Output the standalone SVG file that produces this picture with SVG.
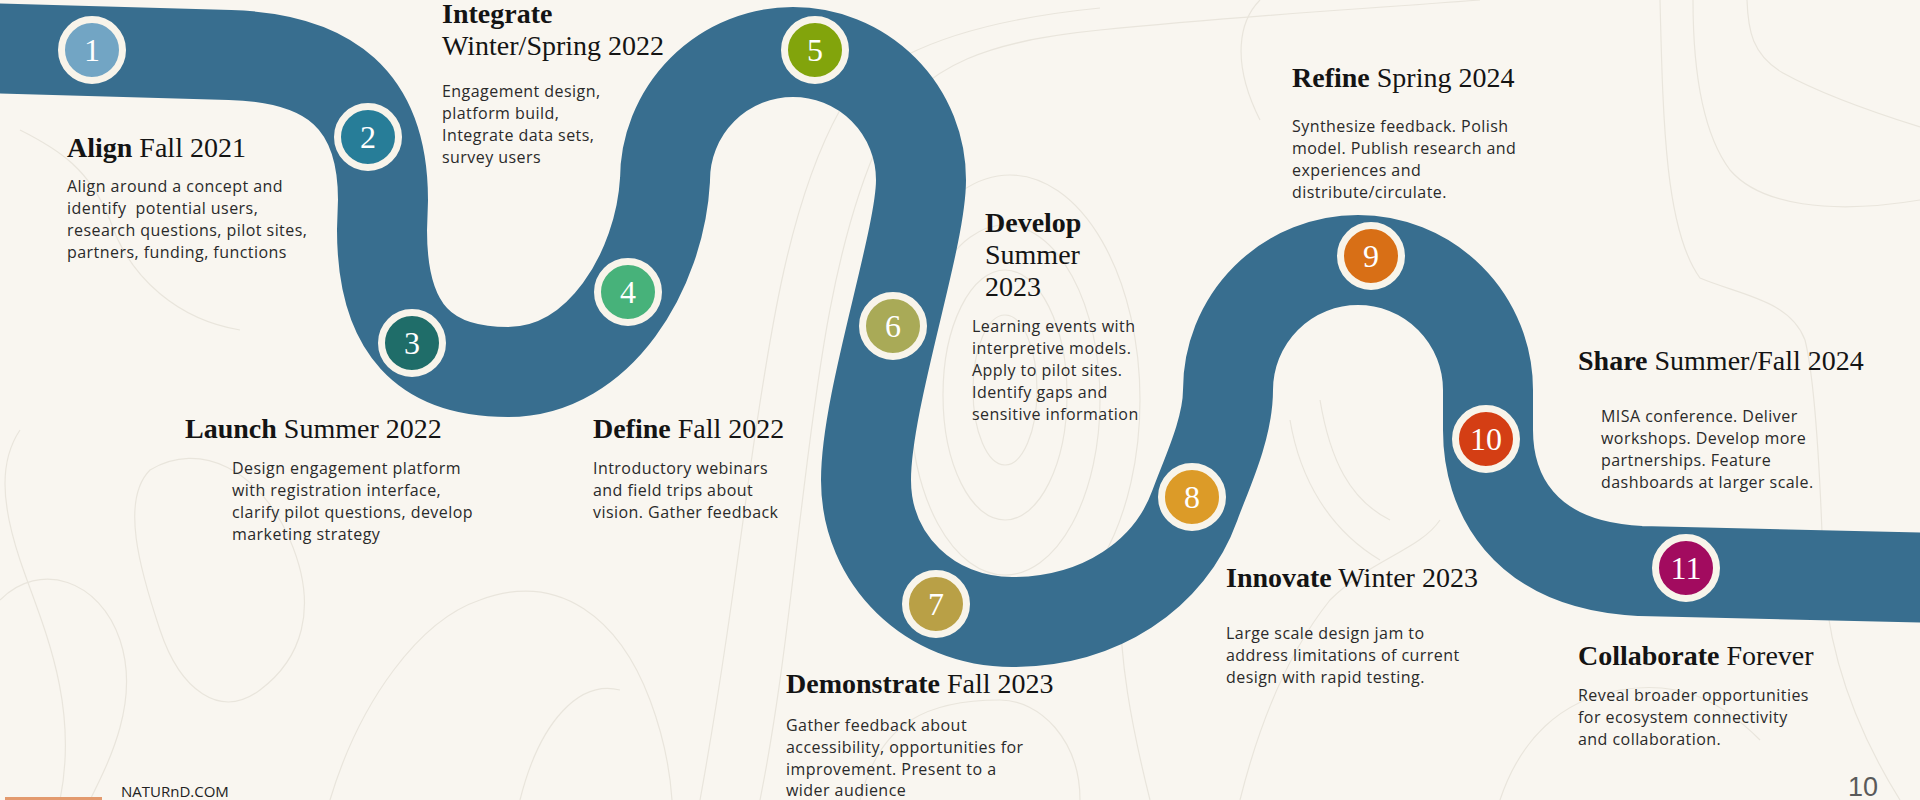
<svg xmlns="http://www.w3.org/2000/svg" width="1920" height="800" viewBox="0 0 1920 800">
<style>
.bg{fill:#f9f6f0}
.topo{fill:none;stroke:#e9e5dc;stroke-width:1.2}
.road{fill:none;stroke:#386e8f;stroke-width:90;stroke-linejoin:round}
.ring{stroke:#f8f4ea;stroke-width:7}
.num{font-family:"Liberation Serif","Times New Roman",serif;font-size:32px;fill:#ffffff;text-anchor:middle}
.hd{font-family:"Liberation Serif","Times New Roman",serif;font-size:28px;fill:#141414}
.hd .b{font-weight:bold}
.bd{font-family:"Open Sans","Noto Sans",sans-serif;font-size:16px;fill:#2a2a2a;letter-spacing:0.45px}
.foot{font-family:"Open Sans","Noto Sans",sans-serif;font-size:15px;fill:#222}
.pg{font-family:"Liberation Sans",Arial,sans-serif;font-size:27px;fill:#5a5a5a}
</style>
<rect class="bg" x="0" y="0" width="1920" height="800"/>
<g id="contours">
<path class="topo" d="M1747,0 C1748,30 1752,55 1783,73 C1810,88 1850,105 1920,127"/>
<path class="topo" d="M1693,0 C1693,60 1700,130 1730,170 C1760,205 1830,215 1920,200"/>
<path class="topo" d="M1660,0 C1663,120 1665,230 1700,278 C1740,295 1790,300 1805,340 C1815,380 1820,470 1823,560 C1825,640 1850,720 1900,800"/>
<ellipse class="topo" cx="1005" cy="390" rx="32" ry="75"/>
<ellipse class="topo" cx="1005" cy="395" rx="62" ry="125"/>
<ellipse class="topo" cx="1005" cy="400" rx="95" ry="175"/>
<ellipse class="topo" cx="1010" cy="400" rx="130" ry="225"/>
<path class="topo" d="M760,800 C780,700 790,600 800,520 C815,400 830,250 880,140 C920,60 1000,40 1100,30 C1250,15 1350,10 1480,0"/>
<path class="topo" d="M700,800 C720,690 735,580 750,470 C770,330 790,200 840,110 C880,50 980,20 1100,8"/>
<path class="topo" d="M1150,800 C1130,720 1120,660 1120,600"/>
<path class="topo" d="M1240,800 C1260,720 1290,650 1330,600 C1370,560 1420,550 1440,520"/>
<path class="topo" d="M1080,800 C1080,740 1040,700 1000,700 C930,700 880,720 860,800"/>
<path class="topo" d="M60,800 C80,700 40,620 20,560 C0,500 0,460 20,430"/>
<path class="topo" d="M150,470 C200,440 260,470 290,540 C320,610 300,660 260,690 C220,720 180,690 160,630 C140,570 120,500 150,470 Z"/>
<path class="topo" d="M0,600 C40,560 100,580 120,640 C140,700 110,760 90,800"/>
<path class="topo" d="M330,800 C360,700 420,620 480,600 C560,570 620,620 650,700 C665,740 670,770 672,800"/>
<path class="topo" d="M520,800 C540,720 580,680 620,690"/>
<path class="topo" d="M1500,800 C1520,740 1560,700 1620,690 C1680,680 1720,700 1760,740"/>
<path class="topo" d="M1290,420 C1300,480 1330,530 1380,560"/>
<path class="topo" d="M1320,400 C1330,460 1350,500 1390,520"/>
<path class="topo" d="M1260,120 C1230,60 1240,20 1260,0"/>
<path class="topo" d="M20,130 C60,150 90,170 110,220 C130,280 180,320 240,330"/>
</g>
<g id="connectors">
<path id="road" class="road" d="M-20,48 L230,55 C330,58 383,100 383,200 L382,230 C382,330 425,372 508,372 C600,372 660,270 665,180 A 128 128 0 0 1 921,180 C921,240 866,400 866,480 C866,560 930,622 1012,622 C1100,622 1170,575 1195,505 C1205,477 1228,430 1228,390 A 130 130 0 0 1 1488,390 L1488,430 C1488,490 1520,565 1640,571 L1940,578"/>
</g>
<g id="m1">
<circle class="ring" cx="92" cy="50" r="30.5" fill="#72a5c4"/>
<text class="num" x="92" y="61">1</text>
<text class="hd" x="67" y="157"><tspan class="b">Align</tspan> Fall 2021</text>
<text class="bd" x="67" y="192">Align around a concept and</text>
<text class="bd" x="67" y="214" xml:space="preserve">identify  potential users,</text>
<text class="bd" x="67" y="236">research questions, pilot sites,</text>
<text class="bd" x="67" y="258">partners, funding, functions</text>
</g>
<g id="m2">
<circle class="ring" cx="368" cy="137" r="30.5" fill="#277d98"/>
<text class="num" x="368" y="148">2</text>
<text class="hd" x="442" y="23"><tspan class="b">Integrate</tspan></text>
<text class="hd" x="442" y="55">Winter/Spring 2022</text>
<text class="bd" x="442" y="97">Engagement design,</text>
<text class="bd" x="442" y="119">platform build,</text>
<text class="bd" x="442" y="141">Integrate data sets,</text>
<text class="bd" x="442" y="163">survey users</text>
</g>
<g id="m3">
<circle class="ring" cx="412" cy="343" r="30.5" fill="#1f6d69"/>
<text class="num" x="412" y="354">3</text>
<text class="hd" x="185" y="438"><tspan class="b">Launch</tspan> Summer 2022</text>
<text class="bd" x="232" y="474">Design engagement platform</text>
<text class="bd" x="232" y="496">with registration interface,</text>
<text class="bd" x="232" y="518">clarify pilot questions, develop</text>
<text class="bd" x="232" y="540">marketing strategy</text>
</g>
<g id="m4">
<circle class="ring" cx="628" cy="292" r="30.5" fill="#47b27a"/>
<text class="num" x="628" y="303">4</text>
<text class="hd" x="593" y="438"><tspan class="b">Define</tspan> Fall 2022</text>
<text class="bd" x="593" y="474">Introductory webinars</text>
<text class="bd" x="593" y="496">and field trips about</text>
<text class="bd" x="593" y="518">vision. Gather feedback</text>
</g>
<g id="m5">
<circle class="ring" cx="815" cy="50" r="30.5" fill="#82a40c"/>
<text class="num" x="815" y="61">5</text>
</g>
<g id="m6">
<circle class="ring" cx="893" cy="326" r="30.5" fill="#a9aa57"/>
<text class="num" x="893" y="337">6</text>
<text class="hd" x="985" y="232"><tspan class="b">Develop</tspan></text>
<text class="hd" x="985" y="264">Summer</text>
<text class="hd" x="985" y="296">2023</text>
<text class="bd" x="972" y="332">Learning events with</text>
<text class="bd" x="972" y="354">interpretive models.</text>
<text class="bd" x="972" y="376">Apply to pilot sites.</text>
<text class="bd" x="972" y="398">Identify gaps and</text>
<text class="bd" x="972" y="420">sensitive information</text>
</g>
<g id="m7">
<circle class="ring" cx="936" cy="604" r="30.5" fill="#b9a046"/>
<text class="num" x="936" y="615">7</text>
<text class="hd" x="786" y="693"><tspan class="b">Demonstrate</tspan> Fall 2023</text>
<text class="bd" x="786" y="731">Gather feedback about</text>
<text class="bd" x="786" y="753">accessibility, opportunities for</text>
<text class="bd" x="786" y="775">improvement. Present to a</text>
<text class="bd" x="786" y="796">wider audience</text>
</g>
<g id="m8">
<circle class="ring" cx="1192" cy="497" r="30.5" fill="#dc9b28"/>
<text class="num" x="1192" y="508">8</text>
<text class="hd" x="1226" y="587"><tspan class="b">Innovate</tspan> Winter 2023</text>
<text class="bd" x="1226" y="639">Large scale design jam to</text>
<text class="bd" x="1226" y="661">address limitations of current</text>
<text class="bd" x="1226" y="683">design with rapid testing.</text>
</g>
<g id="m9">
<circle class="ring" cx="1371" cy="256" r="30.5" fill="#d86f16"/>
<text class="num" x="1371" y="267">9</text>
<text class="hd" x="1292" y="87"><tspan class="b">Refine</tspan> Spring 2024</text>
<text class="bd" x="1292" y="132">Synthesize feedback. Polish</text>
<text class="bd" x="1292" y="154">model. Publish research and</text>
<text class="bd" x="1292" y="176">experiences and</text>
<text class="bd" x="1292" y="198">distribute/circulate.</text>
</g>
<g id="m10">
<circle class="ring" cx="1486" cy="439" r="30.5" fill="#d43e14"/>
<text class="num" x="1486" y="450">10</text>
<text class="hd" x="1578" y="370"><tspan class="b">Share</tspan> Summer/Fall 2024</text>
<text class="bd" x="1601" y="422">MISA conference. Deliver</text>
<text class="bd" x="1601" y="444">workshops. Develop more</text>
<text class="bd" x="1601" y="466">partnerships. Feature</text>
<text class="bd" x="1601" y="488">dashboards at larger scale.</text>
</g>
<g id="m11">
<circle class="ring" cx="1686" cy="568" r="30.5" fill="#a20b5f"/>
<text class="num" x="1686" y="579">11</text>
<text class="hd" x="1578" y="665"><tspan class="b">Collaborate</tspan> Forever</text>
<text class="bd" x="1578" y="701">Reveal broader opportunities</text>
<text class="bd" x="1578" y="723">for ecosystem connectivity</text>
<text class="bd" x="1578" y="745">and collaboration.</text>
</g>
<g id="footer">
<rect x="5" y="797" width="97" height="3" fill="#e39a6e"/>
<text class="foot" x="121" y="797">NATURnD.COM</text>
<text class="pg" x="1848" y="796">10</text>
</g>
</svg>
